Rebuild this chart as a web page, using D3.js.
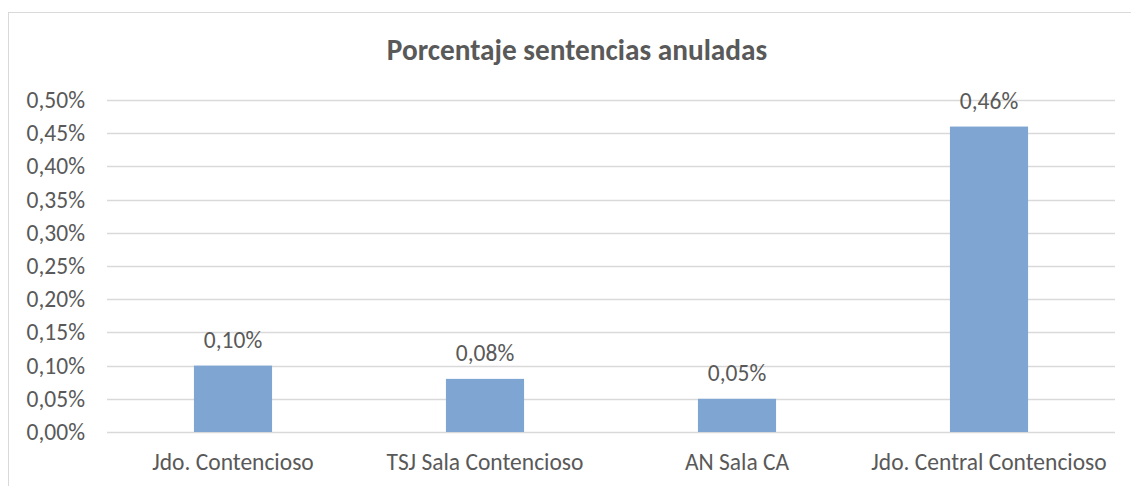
<!DOCTYPE html>
<html>
<head>
<meta charset="utf-8">
<script src="https://cdn.jsdelivr.net/npm/d3@7"></script>
<style>
  html, body { margin: 0; padding: 0; background: #fff; }
  svg text { font-family: Carlito, Lato, "Open Sans", sans-serif; fill: #595959; }
</style>
</head>
<body>
<svg id="chart" width="1131" height="486"></svg>
<script>
// data
const categories = ['Jdo. Contencioso', 'TSJ Sala Contencioso', 'AN Sala CA', 'Jdo. Central Contencioso'];
const values = [0.10, 0.08, 0.05, 0.46];
const yTicks = [0, 0.05, 0.10, 0.15, 0.20, 0.25, 0.30, 0.35, 0.40, 0.45, 0.50];
const title = 'Porcentaje sentencias anuladas';

const FONT = 'Carlito, Lato, "Open Sans", sans-serif';
const LABEL_SIZE = 23.5;
const svg = d3.select('#chart');
const plot = { left: 107, right: 1115, top: 100, bottom: 432 };

// chart frame (right and bottom fall off the picture)
svg.append('rect')
  .attr('x', 8.5).attr('y', 12.5)
  .attr('width', 1140).attr('height', 500)
  .attr('fill', '#fff').attr('stroke', '#d9d9d9').attr('stroke-width', 1);

svg.append('text')
  .attr('x', 577).attr('y', 60)
  .attr('text-anchor', 'middle')
  .attr('font-size', 29.3).attr('font-weight', 'bold')
  .text(title);

const x = d3.scaleBand()
  .domain(categories)
  .range([plot.left, plot.right])
  .paddingInner(0.69).paddingOuter(0.345);

const y = d3.scaleLinear().domain([0, 0.5]).range([plot.bottom, plot.top]);

const fmt = v => v.toFixed(2).replace('.', ',') + '%';

// gridlines
svg.append('g')
  .selectAll('line').data(yTicks).join('line')
  .attr('x1', plot.left).attr('x2', plot.right)
  .attr('y1', d => Math.round(y(d)) + 0.5).attr('y2', d => Math.round(y(d)) + 0.5)
  .attr('stroke', '#d9d9d9').attr('stroke-width', 1.4);

// y axis labels
const yAxis = d3.axisLeft(y).tickValues(yTicks).tickFormat(fmt).tickSize(0).tickPadding(0);
svg.append('g')
  .attr('transform', 'translate(85,0)')
  .call(yAxis)
  .call(g => g.select('.domain').remove())
  .call(g => g.selectAll('text').attr('font-size', LABEL_SIZE).attr('fill', '#595959')
    .attr('font-family', FONT));

// bars
svg.append('g')
  .selectAll('rect').data(categories).join('rect')
  .attr('x', d => x(d))
  .attr('width', x.bandwidth())
  .attr('y', (d, i) => y(values[i]))
  .attr('height', (d, i) => y(0) - y(values[i]))
  .attr('fill', '#7fa6d2');

// value labels
svg.append('g')
  .selectAll('text').data(categories).join('text')
  .attr('x', d => x(d) + x.bandwidth() / 2)
  .attr('y', (d, i) => y(values[i]) - 18)
  .attr('text-anchor', 'middle')
  .attr('font-size', LABEL_SIZE)
  .text((d, i) => fmt(values[i]));

// x axis labels
const xAxis = d3.axisBottom(x).tickSize(0).tickPadding(0);
svg.append('g')
  .attr('transform', `translate(0,${plot.bottom + 38})`)
  .call(xAxis)
  .call(g => g.select('.domain').remove())
  .call(g => g.selectAll('text').attr('font-size', LABEL_SIZE).attr('fill', '#595959').attr('dy', 0)
    .attr('font-family', FONT));
</script>
</body>
</html>
